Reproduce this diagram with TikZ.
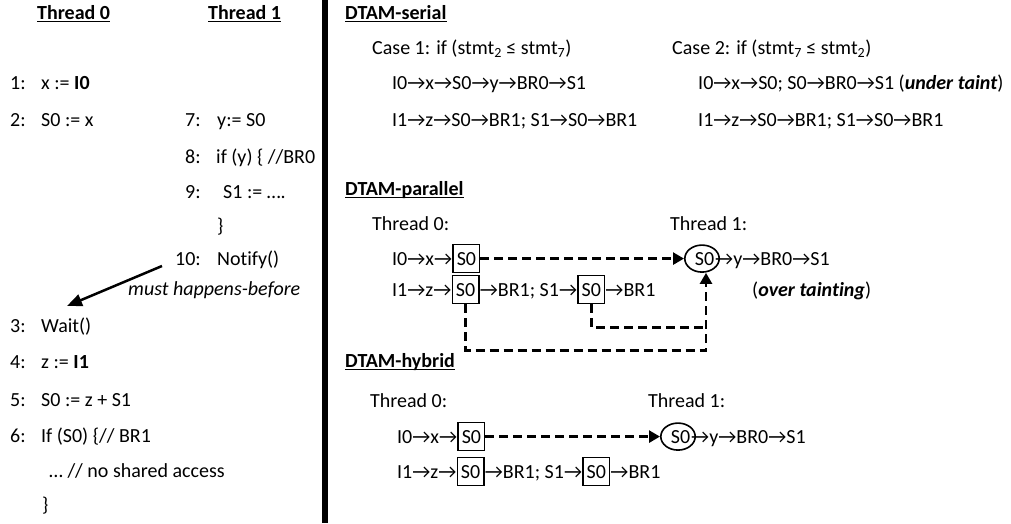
\documentclass[tikz,border=0pt]{standalone}
\usepackage{fontspec}
\setmainfont[Ligatures={NoCommon}]{Carlito}
\usetikzlibrary{arrows.meta,shapes.geometric}
\newcommand\ra{→}
\newcommand\fs{\fontsize{20}{24}\selectfont}
\tikzset{
  t/.style={anchor=base west, inner sep=0pt, font=\fs},
  box/.style={draw, line width=1.6pt, anchor=base west, inner xsep=3.5pt, inner ysep=0pt, minimum height=28pt, font=\fs},
  oval/.style={draw, ellipse, line width=1.6pt, anchor=base, inner sep=0pt, minimum width=34pt, minimum height=27pt, font=\fs},
  dsh/.style={line width=2.6pt, dash pattern=on 9pt off 5pt},
  dsharr/.style={dsh, -{Triangle[length=11pt,width=12pt]}},
  hbarr/.style={line width=2.5pt, -{Triangle[length=15pt,width=12pt]}},
  ul/.style={line width=1.4pt}
}
\newcommand\ul[1]{\draw[ul] ([yshift=-2.5pt]#1.base west) -- ([yshift=-2.5pt]#1.base east);}
\begin{document}
\begin{tikzpicture}[x=1pt,y=-1pt]
\useasboundingbox (0,0) rectangle (1011,523);
\fill[white] (0,0) rectangle (1011,523);
% divider
\fill[black] (322,0) rectangle (328,523);
% left column
\node[t] (h0) at (37,19) {\textbf{Thread 0}}; \ul{h0}
\node[t] (h1) at (208,19) {\textbf{Thread 1}}; \ul{h1}
\node[t] (n1) at (10,89) {1:};   \node[t] (c1) at (41,89) {x := \textbf{I0}};
\node[t] (n2) at (10,126) {2:};  \node[t] (c2) at (41,126) {S0 := x};
\node[t] (n7) at (185,126) {7:}; \node[t] (c7) at (217,126) {y:= S0};
\node[t] (n8) at (185,163) {8:}; \node[t] (c8) at (216,163) {if (y) \{ //BR0};
\node[t] (n9) at (185,198) {9:}; \node[t] (c9) at (223,198) {S1 := ….};
\node[t] (c9b) at (217,232) {\}};
\node[t] (n10) at (175,265) {10:}; \node[t] (c10) at (217,265) {Notify()};
\node[t] (hb) at (128,295) {\textit{must happens-before}};
\node[t] (n3) at (10,332) {3:}; \node[t] (c3) at (41,332) {Wait()};
\node[t] (n4) at (10,368) {4:}; \node[t] (c4) at (41,368) {z := \textbf{I1}};
\node[t] (n5) at (10,406) {5:}; \node[t] (c5) at (41,406) {S0 := z + S1};
\node[t] (n6) at (10,442) {6:}; \node[t] (c6) at (41,442) {If (S0) \{// BR1};
\node[t] (c6a) at (49,477) {… // no shared access};
\node[t] (c6b) at (42,511) {\}};
\coordinate (hbS) at (162,266);
\coordinate (hbE) at (67,306);
\draw[hbarr] (hbS) -- (hbE);
% DTAM-serial
\node[t] (ds) at (345,19) {\textbf{DTAM-serial}}; \ul{ds}
\node[t] (k1) at (372,54) {Case 1: if (stmt\textsubscript{2} ≤ stmt\textsubscript{7})};
\node[t] (s1a) at (392,89) {I0\ra x\ra S0\ra y\ra BR0\ra S1};
\node[t] (s1b) at (392,126) {I1\ra z\ra S0\ra BR1; S1\ra S0\ra BR1};
\node[t] (k2) at (672,54) {Case 2: if (stmt\textsubscript{7} ≤ stmt\textsubscript{2})};
\node[t] (s2a) at (698,89) {I0\ra x\ra S0; S0\ra BR0\ra S1 (\textbf{\textit{under taint}})};
\node[t] (s2b) at (698,126) {I1\ra z\ra S0\ra BR1; S1\ra S0\ra BR1};
% DTAM-parallel
\node[t] (dp) at (345,195) {\textbf{DTAM-parallel}}; \ul{dp}
\node[t] (pt0) at (372,230) {Thread 0:};
\node[t] (pt1) at (670,230) {Thread 1:};
\node[t] (pa1) at (392,265) {I0\ra x\ra};
\node[box] (pa2) at (pa1.base east) {S0};
\node[oval] (pe) at (702,265) {\hspace{5pt}S0};
\coordinate (pex) at ([xshift=-5pt]pe.east |- pe.base);
\node[t] (pa3) at (pex) {\ra y\ra BR0\ra S1};
\node[t] (pb1) at (392,296) {I1\ra z\ra};
\node[box] (pb2) at (pb1.base east) {S0};
\node[t] (pb3) at (pb2.base east) {\ra BR1; S1\ra};
\node[box] (pb4) at (pb3.base east) {S0};
\node[t] (pb5) at (pb4.base east) {\ra BR1};
\node[t] (ot) at (752,296) {(\textbf{\textit{over tainting}})};
\draw[dsharr] (pa2.east) -- (pe.west);
\coordinate (ea) at ([xshift=4pt]pe.south);
\coordinate (b2) at ([yshift=-23pt]pb4.south);
\coordinate (b1) at ([yshift=-46pt]pb2.south);
\draw[dsh] (pb4.south) -- (b2) -- (b2 -| ea);
\draw[dsharr] (pb2.south) -- (b1) -- (b1 -| ea) -- (ea);
% DTAM-hybrid
\node[t] (dh) at (345,367) {\textbf{DTAM-hybrid}}; \ul{dh}
\node[t] (ht0) at (370,407) {Thread 0:};
\node[t] (ht1) at (648,407) {Thread 1:};
\node[t] (ha1) at (397,443) {I0\ra x\ra};
\node[box] (ha2) at (ha1.base east) {S0};
\node[oval] (he) at (678,443) {\hspace{5pt}S0};
\coordinate (hex) at ([xshift=-5pt]he.east |- he.base);
\node[t] (ha3) at (hex) {\ra y\ra BR0\ra S1};
\node[t] (hb1) at (397,478) {I1\ra z\ra};
\node[box] (hb2) at (hb1.base east) {S0};
\node[t] (hb3) at (hb2.base east) {\ra BR1; S1\ra};
\node[box] (hb4) at (hb3.base east) {S0};
\node[t] (hb5) at (hb4.base east) {\ra BR1};
\draw[dsharr] (ha2.east) -- (he.west);
\end{tikzpicture}
\end{document}
